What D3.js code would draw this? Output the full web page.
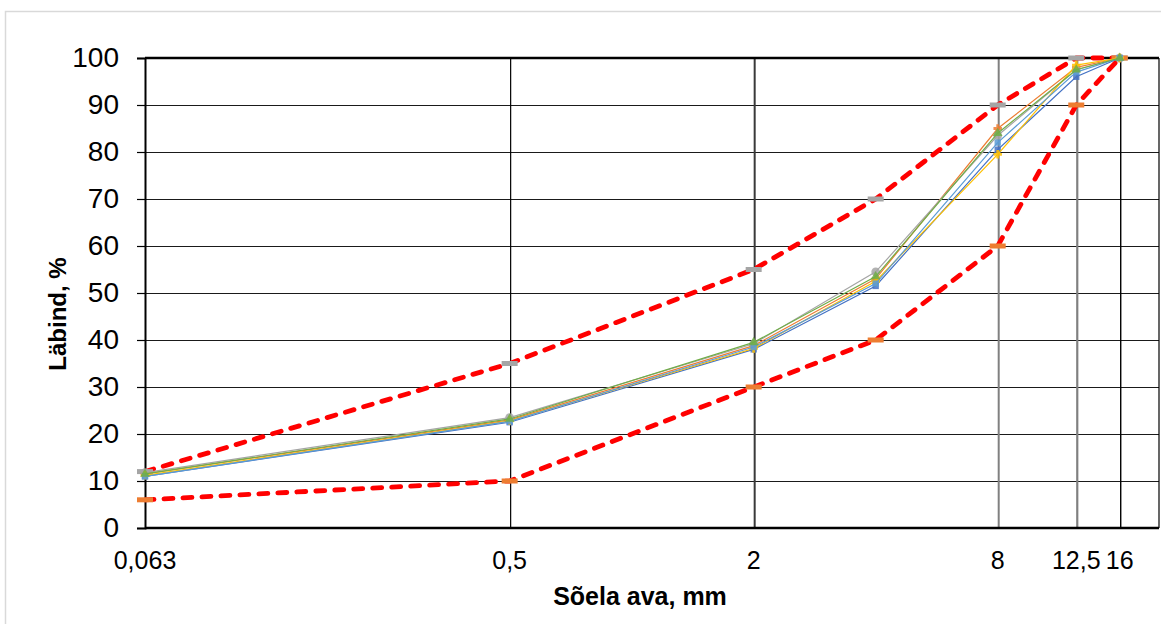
<!DOCTYPE html>
<html>
<head>
<meta charset="utf-8">
<script src="https://cdn.jsdelivr.net/npm/d3@7"></script>
<style>
  body { margin: 0; background: #fff; }
  svg { display: block; font-family: "Liberation Sans", Arial, sans-serif; }
</style>
</head>
<body>
<div id="chart"></div>
<script>
// sieve sizes (mm) and passing %
const sieves = [0.063, 0.5, 2, 4, 8, 12.5, 16];
const upperLimit = [12, 35, 55, 70, 90, 100, 100];
const lowerLimit = [6, 10, 30, 40, 60, 90, 100];
const sample1 = [11, 22.5, 38, 51.5, 80.5, 96, 100];
const sample2 = [11.5, 23, 38.8, 53, 85, 98, 100];
const sample3 = [11.8, 23.5, 39.2, 54.5, 83.5, 97.5, 100];
const sample4 = [11.2, 22.8, 38.2, 52.5, 79.5, 98.5, 100];
const sample5 = [11, 22.7, 38.5, 52, 82, 97, 100];
const sample6 = [11.5, 23.2, 39.5, 53.5, 84, 97.5, 100];
const sampleColors = ["#4472c4", "#ed7d31", "#a5a5a5", "#ffc000", "#5b9bd5", "#70ad47"];
const xTickValues = [0.063, 0.5, 2, 8, 12.5, 16];
const xTickLabels = ["0,063", "0,5", "2", "8", "12,5", "16"];
const yTicks = [0, 10, 20, 30, 40, 50, 60, 70, 80, 90, 100];

const W = 1161, H = 624;
const margin = { left: 145, right: 2, top: 58, bottom: 96 };

const svg = d3.select("#chart").append("svg")
  .attr("width", W).attr("height", H);

// outer chart border
svg.append("rect")
  .attr("x", 5.5).attr("y", 11.5)
  .attr("width", W + 10).attr("height", H + 10)
  .attr("fill", "none").attr("stroke", "#d9d9d9").attr("stroke-width", 1.5);

const x = d3.scaleLog().domain([0.063, 20]).range([margin.left, W - margin.right]);
const y = d3.scaleLinear().domain([0, 100]).range([H - margin.bottom, margin.top]);

// horizontal grid
svg.append("g").selectAll("line")
  .data(yTicks.slice(1, -1))
  .enter().append("line")
  .attr("x1", margin.left).attr("x2", W - margin.right)
  .attr("y1", d => Math.round(y(d)) + 0.5).attr("y2", d => Math.round(y(d)) + 0.5)
  .attr("stroke", "#1a1a1a").attr("stroke-width", 1.2);

// vertical grid at sieve sizes
const gridStyle = { 0.5: ["#000", 1.2], 2: ["#3a3a3a", 2], 8: ["#808080", 2], 12.5: ["#808080", 2.2], 16: ["#000", 1.4] };
svg.append("g").selectAll("line")
  .data(xTickValues.slice(1))
  .enter().append("line")
  .attr("x1", d => x(d) + 1).attr("x2", d => x(d) + 1)
  .attr("y1", y(100)).attr("y2", y(0))
  .attr("stroke", d => gridStyle[d][0]).attr("stroke-width", d => gridStyle[d][1]);

// right edge
svg.append("line")
  .attr("x1", W - margin.right).attr("x2", W - margin.right)
  .attr("y1", y(100)).attr("y2", y(0))
  .attr("stroke", "#000").attr("stroke-width", 1.2);

// top and bottom frame lines
svg.append("line")
  .attr("x1", margin.left).attr("x2", W - margin.right)
  .attr("y1", y(100)).attr("y2", y(100))
  .attr("stroke", "#000").attr("stroke-width", 2.5);
svg.append("line")
  .attr("x1", margin.left).attr("x2", W - margin.right)
  .attr("y1", y(0)).attr("y2", y(0))
  .attr("stroke", "#000").attr("stroke-width", 2.5);

// Y axis
const yAxis = svg.append("g")
  .attr("transform", "translate(" + margin.left + ",0)")
  .call(d3.axisLeft(y).tickValues(yTicks).tickSize(8).tickPadding(18));
yAxis.select(".domain").attr("stroke", "#000").attr("stroke-width", 2);
yAxis.selectAll(".tick line").attr("stroke", "#000").attr("stroke-width", 1.2);
yAxis.selectAll("text")
  .attr("font-family", "Liberation Sans, Arial, sans-serif")
  .attr("font-size", 28).attr("fill", "#000");

// X tick labels
svg.append("g").selectAll("text")
  .data(xTickValues)
  .enter().append("text")
  .attr("x", d => x(d)).attr("y", 569)
  .attr("text-anchor", "middle")
  .attr("font-size", 25).attr("fill", "#000")
  .text((d, i) => xTickLabels[i]);

// axis titles
svg.append("text")
  .attr("transform", "translate(66,314) rotate(-90)")
  .attr("text-anchor", "middle")
  .attr("font-size", 24).attr("font-weight", "bold")
  .text("Läbind, %");
svg.append("text")
  .attr("x", 640).attr("y", 605)
  .attr("text-anchor", "middle")
  .attr("font-size", 25).attr("font-weight", "bold")
  .text("Sõela ava, mm");

const line = d3.line().x(d => x(d[0])).y(d => y(d[1]));

// limit curves
[upperLimit, lowerLimit].forEach((vals, k) => {
  const pts = sieves.map((s, i) => [s, vals[i]]);
  svg.append("path")
    .datum(pts)
    .attr("d", line)
    .attr("fill", "none").attr("stroke", "#ff0000")
    .attr("stroke-width", 4.8).attr("stroke-dasharray", "9,10")
    .attr("stroke-linecap", "round");
  svg.append("g").selectAll("rect")
    .data(pts)
    .enter().append("rect")
    .attr("x", d => x(d[0]) - 8).attr("y", d => y(d[1]) - 2.5)
    .attr("width", 16).attr("height", 5)
    .attr("fill", k === 0 ? "#a5a5a5" : "#ed7d31");
});

// sample curves
const samples = [sample1, sample2, sample3, sample4, sample5, sample6];
const shapes = [d3.symbolSquare, d3.symbolCross, d3.symbolCircle, d3.symbolCross, d3.symbolSquare, d3.symbolTriangle];
samples.forEach((vals, k) => {
  const pts = sieves.map((s, i) => [s, vals[i]]);
  svg.append("path")
    .datum(pts)
    .attr("d", line)
    .attr("fill", "none").attr("stroke", sampleColors[k])
    .attr("stroke-width", 1.2);
  svg.append("g").selectAll("path")
    .data(pts)
    .enter().append("path")
    .attr("transform", d => "translate(" + x(d[0]) + "," + y(d[1]) + ")")
    .attr("d", d3.symbol().type(shapes[k]).size(k === 2 ? 60 : 40))
    .attr("fill", sampleColors[k]).attr("opacity", 0.85);
});
</script>
</body>
</html>
